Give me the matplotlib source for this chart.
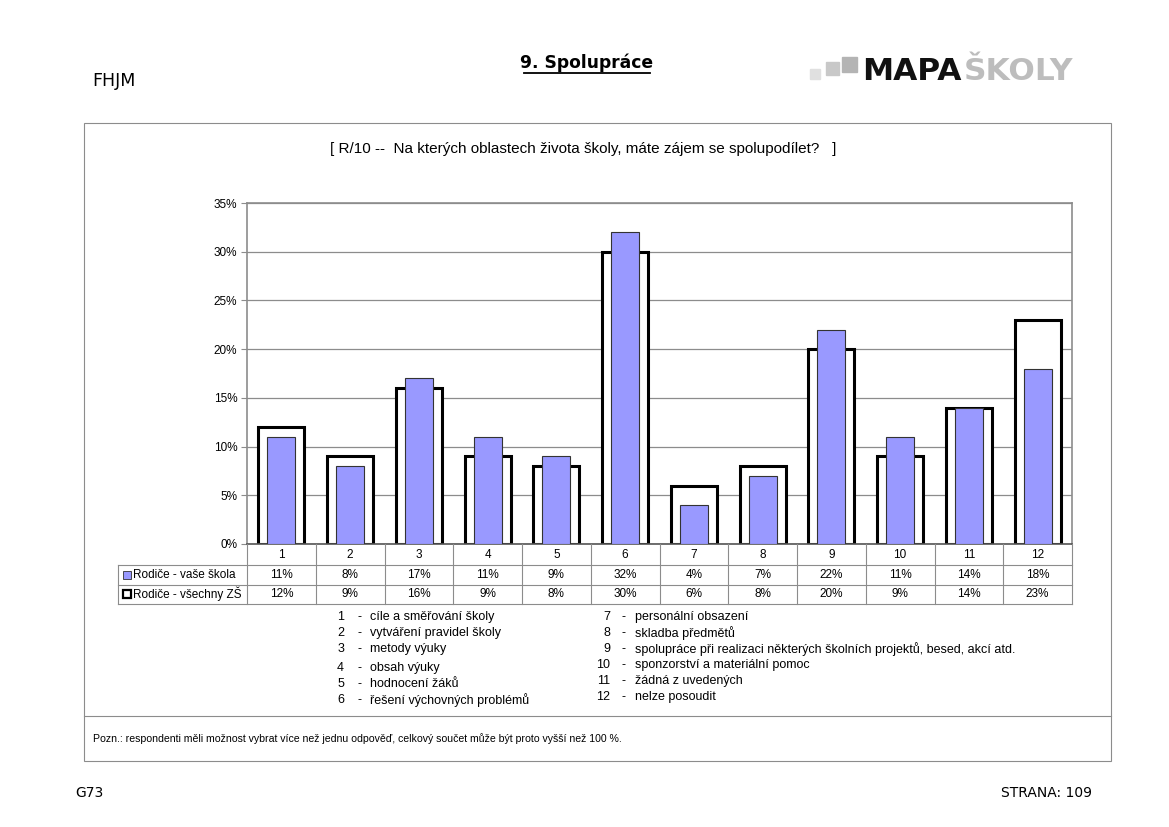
import matplotlib.pyplot as plt
import numpy as np
from matplotlib.lines import Line2D
from matplotlib.patches import Rectangle
from matplotlib.transforms import blended_transform_factory

plt.rcParams['font.family'] = ['Liberation Sans', 'DejaVu Sans']

categories = ["1", "2", "3", "4", "5", "6", "7", "8", "9", "10", "11", "12"]
school = [11, 8, 17, 11, 9, 32, 4, 7, 22, 11, 14, 18]
all_zs = [12, 9, 16, 9, 8, 30, 6, 8, 20, 9, 14, 23]
series_names = ["Rodiče - vaše škola", "Rodiče - všechny ZŠ"]
items_left = ["cíle a směřování školy", "vytváření pravidel školy", "metody výuky",
              "obsah výuky", "hodnocení žáků", "řešení výchovných problémů"]
items_right = ["personální obsazení", "skladba předmětů",
               "spolupráce při realizaci některých školních projektů, besed, akcí atd.",
               "sponzorství a materiální pomoc", "žádná z uvedených", "nelze posoudit"]
yticks = [0, 5, 10, 15, 20, 25, 30, 35]

W, H = 1169, 827


def fx(x):
    return x / W


def fy(y):
    return 1 - y / H


fig = plt.figure(figsize=(W / 100, H / 100), dpi=100)
fig.patch.set_facecolor("white")

# page header / footer
fig.text(fx(92), fy(81), "FHJM", fontsize=12.5, family="DejaVu Sans", va="center")
fig.text(fx(587), fy(63), "9. Spolupráce", fontsize=12.3, fontweight="bold",
         family="DejaVu Sans", ha="center", va="center")
fig.add_artist(Line2D([fx(524), fx(650)], [fy(73), fy(73)], color="black", lw=1.3))
fig.text(fx(75), fy(793), "G73", fontsize=10, family="DejaVu Sans", va="center")
fig.text(fx(1092), fy(793), "STRANA: 109", fontsize=10, family="DejaVu Sans",
         ha="right", va="center")

# logo
for (x0, y0, s, c) in [(810, 69, 10, "#e0e0e0"), (826, 62, 13, "#c8c8c8"),
                       (842, 57, 15, "#b4b4b4")]:
    fig.add_artist(Rectangle((fx(x0), fy(y0 + s)), fx(s), s / H,
                             color=c, transform=fig.transFigure))
fig.text(fx(862), fy(71), "MAPA", fontsize=22.5, fontweight="bold",
         family="DejaVu Sans", va="center", color="#111111")
fig.text(fx(1073), fy(71), "ŠKOLY", fontsize=22.5, fontweight="bold",
         family="DejaVu Sans", va="center", ha="right", color="#bdbdbd")

# outer frame
fig.add_artist(Rectangle((fx(84), fy(761)), fx(1111 - 84), (761 - 123) / H,
                         fill=False, edgecolor="#8c8c8c", lw=0.8,
                         transform=fig.transFigure))
fig.add_artist(Line2D([fx(84), fx(1111)], [fy(716), fy(716)], color="#8c8c8c", lw=0.8))
fig.text(fx(93), fy(739), "Pozn.: respondenti měli možnost vybrat více než jednu odpověď, "
         "celkový součet může být proto vyšší než 100 %.", fontsize=7.6, va="center")

fig.text(fx(583), fy(149), "[ R/10 --  Na kterých oblastech života školy, máte zájem "
         "se spolupodílet?   ]", fontsize=11, ha="center", va="center")

# chart
ax = fig.add_axes([fx(247), fy(544), fx(1072 - 247), (544 - 203) / H])
x = np.arange(len(categories))
ax.bar(x, all_zs, width=0.67, color="white", edgecolor="black", lw=2.2, zorder=2)
ax.bar(x, school, width=0.41, color="#9999ff", edgecolor="#333333", lw=0.8, zorder=3)
ax.set_xlim(-0.5, len(categories) - 0.5)
ax.set_ylim(0, 35)
ax.set_yticks(yticks)
ax.set_yticklabels([f"{v}%" for v in yticks], fontsize=8.5)
ax.set_xticks([])
ax.yaxis.grid(True, color="#8c8c8c", lw=0.9)
ax.set_axisbelow(True)
for sp in ax.spines.values():
    sp.set_color("#8c8c8c")
    sp.set_linewidth(1.2)
ax.spines["bottom"].set_color("#555555")
ax.tick_params(axis="y", length=4, color="#8c8c8c", pad=3)

# data table under the chart
tr = blended_transform_factory(ax.transData, fig.transFigure)
rows_y = [544, 565, 585, 604]
line_kw = dict(color="#8c8c8c", lw=0.8)
for yy in rows_y[1:]:
    fig.add_artist(Line2D([fx(118), fx(1072)], [fy(yy), fy(yy)], **line_kw))
for b in np.arange(len(categories) + 1) - 0.5:
    fig.add_artist(Line2D([b, b], [fy(544), fy(604)], transform=tr, **line_kw))
fig.add_artist(Line2D([fx(118), fx(118)], [fy(565), fy(604)], **line_kw))

for i, c in enumerate(categories):
    fig.text(i, fy(555), c, transform=tr, ha="center", va="center", fontsize=8.5)
    fig.text(i, fy(575), f"{school[i]}%", transform=tr, ha="center", va="center", fontsize=8.5)
    fig.text(i, fy(594), f"{all_zs[i]}%", transform=tr, ha="center", va="center", fontsize=8.5)

fig.add_artist(Rectangle((fx(123), fy(579)), fx(8), 8 / H, facecolor="#9999ff",
                         edgecolor="#333333", lw=0.6, transform=fig.transFigure))
fig.add_artist(Rectangle((fx(123), fy(598)), fx(8), 8 / H, facecolor="white",
                         edgecolor="black", lw=1.6, transform=fig.transFigure))
fig.text(fx(133), fy(575), series_names[0], fontsize=8.5, va="center")
fig.text(fx(133), fy(594), series_names[1], fontsize=8.5, va="center")

# category legend
left_y = [617, 633, 649, 668, 684, 700]
right_y = [617, 633, 649, 665, 681, 697]
for i, (txt, yy) in enumerate(zip(items_left, left_y)):
    fig.text(fx(344), fy(yy), str(i + 1), fontsize=9, ha="right", va="center")
    fig.text(fx(357), fy(yy), "-", fontsize=9, va="center")
    fig.text(fx(370), fy(yy), txt, fontsize=9, va="center")
for i, (txt, yy) in enumerate(zip(items_right, right_y)):
    fig.text(fx(610), fy(yy), str(i + 7), fontsize=9, ha="right", va="center")
    fig.text(fx(622), fy(yy), "-", fontsize=9, va="center")
    fig.text(fx(635), fy(yy), txt, fontsize=9, va="center")

fig.savefig("out.png", dpi=100)
